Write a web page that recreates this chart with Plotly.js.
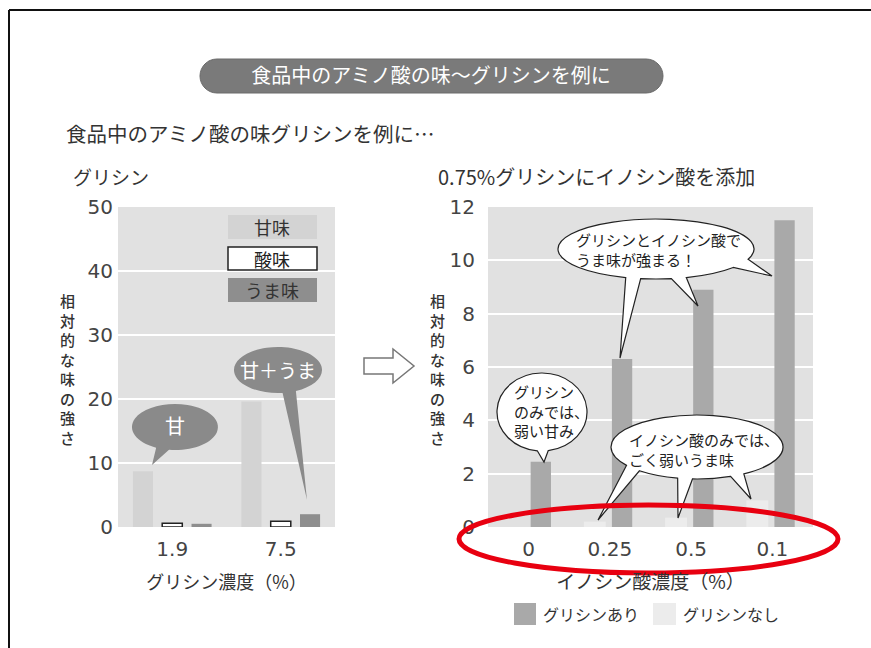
<!DOCTYPE html>
<html>
<head>
<meta charset="utf-8">
<script src="https://cdn.plot.ly/plotly-3.0.1.min.js"></script>
<style>
html,body{margin:0;padding:0;background:#fff;}
#chart{width:871px;height:648px;}
</style>
</head>
<body>
<div id="chart"></div>
<script>
// ---- data ----
const glyCats = ['1.9', '7.5'];
const sweetVals = [8.7, 19.6];
const sourVals = [0.6, 0.9];
const umamiVals = [0.5, 2.0];

const inoCats = ['0', '0.25', '0.5', '0.1'];
const withGlyVals = [2.45, 6.3, 8.9, 11.5];
const withoutGlyVals = [0, 0.2, 0.35, 1.0];

const leftLegendLabels = ['甘味', '酸味', 'うま味'];
const rightLegendLabels = ['グリシンあり', 'グリシンなし'];
const yTitleText = '相対的な味の強さ';

// ---- helpers (pixel -> paper) ----
const W = 871, H = 648;
const X = px => px / W;
const Y = py => 1 - py / H;
const f = (p) => X(p[0]).toFixed(5) + ',' + Y(p[1]).toFixed(5);
const JP = '"Noto Sans CJK JP", "Noto Sans", sans-serif';
const NUM = '"DejaVu Sans", "Noto Sans", sans-serif';

function P(cx, cy, rx, ry, tdeg) {
  const t = tdeg * Math.PI / 180;
  return [cx + rx * Math.cos(t), cy + ry * Math.sin(t)];
}
function arc(cx, cy, rx, ry, t1, t2) {
  let s = '';
  const n = Math.max(1, Math.ceil((t2 - t1) / 90));
  const d = (t2 - t1) / n;
  for (let i = 0; i < n; i++) {
    const a = (t1 + i * d) * Math.PI / 180, b = (t1 + (i + 1) * d) * Math.PI / 180;
    const k = 4 / 3 * Math.tan((b - a) / 4);
    const p0 = [cx + rx * Math.cos(a), cy + ry * Math.sin(a)];
    const p3 = [cx + rx * Math.cos(b), cy + ry * Math.sin(b)];
    const c1 = [p0[0] - k * rx * Math.sin(a), p0[1] + k * ry * Math.cos(a)];
    const c2 = [p3[0] + k * rx * Math.sin(b), p3[1] - k * ry * Math.cos(b)];
    s += ' C' + f(c1) + ' ' + f(c2) + ' ' + f(p3);
  }
  return s;
}
function bubblePath(cx, cy, rx, ry, tails) {
  tails = tails.slice().sort((u, v) => u.a - v.a);
  const n = tails.length;
  let s = 'M' + f(P(cx, cy, rx, ry, tails[0].b));
  for (let i = 0; i < n; i++) {
    const next = tails[(i + 1) % n];
    const t1 = tails[i].b;
    const t2 = next.a + (i === n - 1 ? 360 : 0);
    s += arc(cx, cy, rx, ry, t1, t2);
    s += ' L' + f(next.tip);
    if (i === n - 1) s += ' Z';
    else s += ' L' + f(P(cx, cy, rx, ry, next.b));
  }
  return s;
}
function roundRect(x0, y0, x1, y1, r) {
  const k = 0.5523 * r;
  return 'M' + f([x0 + r, y0]) + ' L' + f([x1 - r, y0]) +
    ' C' + f([x1 - r + k, y0]) + ' ' + f([x1, y0 + r - k]) + ' ' + f([x1, y0 + r]) +
    ' L' + f([x1, y1 - r]) +
    ' C' + f([x1, y1 - r + k]) + ' ' + f([x1 - r + k, y1]) + ' ' + f([x1 - r, y1]) +
    ' L' + f([x0 + r, y1]) +
    ' C' + f([x0 + r - k, y1]) + ' ' + f([x0, y1 - r + k]) + ' ' + f([x0, y1 - r]) +
    ' L' + f([x0, y0 + r]) +
    ' C' + f([x0, y0 + r - k]) + ' ' + f([x0 + r - k, y0]) + ' ' + f([x0 + r, y0]) + ' Z';
}
function rectShape(x0, y0, x1, y1, fill, line, lw) {
  return {type: 'rect', xref: 'paper', yref: 'paper', x0: X(x0), x1: X(x1), y0: Y(y1), y1: Y(y0),
    fillcolor: fill, line: {color: line || fill, width: lw || 0}, layer: 'above'};
}

// ---- traces ----
const traces = [
  {type: 'bar', name: leftLegendLabels[0], x: glyCats, y: sweetVals, xaxis: 'x', yaxis: 'y',
   width: 0.185, offset: -0.3625, marker: {color: '#d3d3d3', line: {width: 0}}, showlegend: false},
  {type: 'bar', name: leftLegendLabels[1], x: glyCats, y: sourVals, xaxis: 'x', yaxis: 'y',
   width: 0.185, offset: -0.0925, marker: {color: '#ffffff', line: {color: '#222', width: 1.5}}, showlegend: false},
  {type: 'bar', name: leftLegendLabels[2], x: glyCats, y: umamiVals, xaxis: 'x', yaxis: 'y',
   width: 0.185, offset: 0.1775, marker: {color: '#8e8e8e', line: {width: 0}}, showlegend: false},
  {type: 'bar', name: rightLegendLabels[1], x: inoCats, y: withoutGlyVals, xaxis: 'x2', yaxis: 'y2',
   width: 0.27, offset: -0.32, marker: {color: '#ececec', line: {width: 0}}, showlegend: false},
  {type: 'bar', name: rightLegendLabels[0], x: inoCats, y: withGlyVals, xaxis: 'x2', yaxis: 'y2',
   width: 0.25, offset: 0.025, marker: {color: '#a9a9a9', line: {width: 0}}, showlegend: false}
];

// ---- shapes ----
const shapes = [];
shapes.push({type: 'line', xref: 'paper', yref: 'paper', x0: X(9), x1: X(871), y0: Y(10), y1: Y(10), line: {color: '#111', width: 2}});
shapes.push({type: 'line', xref: 'paper', yref: 'paper', x0: X(9), x1: X(9), y0: Y(10), y1: Y(648), line: {color: '#111', width: 2}});
shapes.push({type: 'path', xref: 'paper', yref: 'paper', path: roundRect(200, 59, 663, 93, 17), fillcolor: '#7a7a7a', line: {color: '#6a6a6a', width: 1}});
shapes.push(rectShape(228, 215, 317, 239, '#d3d3d3'));
shapes.push(rectShape(228, 247, 317, 270, '#ffffff', '#222', 1.5));
shapes.push(rectShape(228, 278, 317, 302, '#8e8e8e'));
shapes.push({type: 'path', xref: 'paper', yref: 'paper', fillcolor: '#8a8a8a', line: {width: 0}, layer: 'above',
  path: bubblePath(175, 427, 43, 23, [{a: 98, b: 116, tip: [152, 465]}])});
shapes.push({type: 'path', xref: 'paper', yref: 'paper', fillcolor: '#8a8a8a', line: {width: 0}, layer: 'above',
  path: bubblePath(278, 370, 44, 23, [{a: 66, b: 84, tip: [307, 500]}])});
shapes.push({type: 'path', xref: 'paper', yref: 'paper', fillcolor: '#ffffff', line: {color: '#777', width: 1.5},
  path: 'M' + f([364, 358]) + ' L' + f([393, 358]) + ' L' + f([393, 349]) + ' L' + f([414, 366]) +
        ' L' + f([393, 383]) + ' L' + f([393, 374]) + ' L' + f([364, 374]) + ' Z'});
shapes.push({type: 'path', xref: 'paper', yref: 'paper', fillcolor: '#ffffff', line: {color: '#222', width: 1.2}, layer: 'above',
  path: bubblePath(656, 249, 98, 30, [
    {a: 20, b: 38, tip: [772, 276]},
    {a: 72, b: 81, tip: [698, 306]},
    {a: 99, b: 108, tip: [620, 358]}])});
shapes.push({type: 'path', xref: 'paper', yref: 'paper', fillcolor: '#ffffff', line: {color: '#222', width: 1.2}, layer: 'above',
  path: bubblePath(542, 412, 45, 39, [{a: 82, b: 96, tip: [544, 462]}])});
shapes.push({type: 'path', xref: 'paper', yref: 'paper', fillcolor: '#ffffff', line: {color: '#222', width: 1.2}, layer: 'above',
  path: bubblePath(697, 447, 86, 32, [
    {a: 57, b: 67, tip: [751, 499]},
    {a: 93, b: 103, tip: [678, 518]},
    {a: 132, b: 145, tip: [598, 520]}])});
shapes.push(rectShape(514, 603, 536, 625, '#a9a9a9'));
shapes.push(rectShape(653, 603, 676, 625, '#ececec'));
shapes.push({type: 'circle', xref: 'paper', yref: 'paper', x0: X(459), x1: X(838), y0: Y(573), y1: Y(505),
  fillcolor: 'rgba(0,0,0,0)', line: {color: 'rgb(232,0,16)', width: 5}, layer: 'above'});

// ---- annotations ----
function txt(text, x, y, size, color, opts) {
  return Object.assign({text: text, xref: 'paper', yref: 'paper', x: X(x), y: Y(y), showarrow: false,
    xanchor: 'center', yanchor: 'middle', font: {family: JP, size: size, color: color || '#333'}}, opts || {});
}
const vTitle = yTitleText.split('').join('<br>');
const annotations = [
  txt('食品中のアミノ酸の味グリシンを例に…', 64, 133, 20.5, '#333', {xanchor: 'left'}),
  txt('グリシン', 71, 176, 19, '#333', {xanchor: 'left'}),
  txt('0.75%グリシンにイノシン酸を添加', 436, 176, 20, '#333', {xanchor: 'left'}),
  txt(vTitle, 67, 369, 15, '#333', {font: {family: JP, size: 15, color: '#333', weight: 500}}),
  txt(vTitle, 437, 369, 15, '#333', {font: {family: JP, size: 15, color: '#333', weight: 500}}),
  txt(leftLegendLabels[0], 272, 227, 18),
  txt(leftLegendLabels[1], 272, 259, 18, '#222'),
  txt(leftLegendLabels[2], 272, 290, 18),
  txt('甘', 175, 425, 20, '#ffffff'),
  txt('甘＋うま', 278, 369, 19, '#ffffff'),
  txt('グリシンとイノシン酸で<br>うま味が強まる！', 574, 249, 15, '#222', {xanchor: 'left', align: 'left'}),
  txt('グリシン<br>のみでは、<br>弱い甘み', 512, 411, 15, '#222', {xanchor: 'left', align: 'left'}),
  txt('イノシン酸のみでは、<br>ごく弱いうま味', 627, 449, 15, '#222', {xanchor: 'left', align: 'left'}),
  txt(rightLegendLabels[0], 541, 614, 16, '#333', {xanchor: 'left'}),
  txt(rightLegendLabels[1], 681, 614, 16, '#333', {xanchor: 'left'})
];

const yDom = [Y(527), Y(207)];
const layout = {
  width: W, height: H, autosize: false,
  margin: {l: 0, r: 0, t: 0, b: 0},
  paper_bgcolor: '#ffffff', plot_bgcolor: '#e1e1e1',
  showlegend: false,
  barmode: 'group',
  title: {text: '食品中のアミノ酸の味～グリシンを例に', x: X(431), y: Y(76), xanchor: 'center', yanchor: 'middle',
    xref: 'paper', yref: 'paper', font: {family: JP, size: 20, color: '#ffffff'}},
  font: {family: JP, color: '#333'},
  xaxis: {domain: [X(118), X(335)], anchor: 'y', type: 'category', showgrid: false, zeroline: false, showline: false,
    ticks: 'outside', ticklen: 4, tickcolor: 'rgba(0,0,0,0)', tickfont: {family: NUM, size: 20, color: '#444'},
    title: {text: 'グリシン濃度（%）', font: {family: JP, size: 18, color: '#333'}, standoff: 16}},
  yaxis: {domain: yDom, anchor: 'x', range: [0, 50], dtick: 10, showgrid: true, gridcolor: '#ffffff', gridwidth: 2,
    zeroline: false, showline: false, ticks: '', ticklabelstandoff: 4, tickfont: {family: NUM, size: 20, color: '#444'}},
  xaxis2: {domain: [X(488), X(813)], anchor: 'y2', type: 'category', showgrid: false, zeroline: false, showline: false,
    ticks: 'outside', ticklen: 4, tickcolor: 'rgba(0,0,0,0)', tickfont: {family: NUM, size: 20, color: '#444'},
    title: {text: 'イノシン酸濃度（%）', font: {family: JP, size: 19, color: '#333'}, standoff: 15}},
  yaxis2: {domain: yDom, anchor: 'x2', range: [0, 12], dtick: 2, showgrid: true, gridcolor: '#ffffff', gridwidth: 2,
    zeroline: false, showline: false, ticks: '', ticklabelstandoff: 12, tickfont: {family: NUM, size: 20, color: '#444'}},
  shapes: shapes,
  annotations: annotations
};

Plotly.newPlot('chart', traces, layout, {displayModeBar: false, staticPlot: true});
</script>
</body>
</html>
